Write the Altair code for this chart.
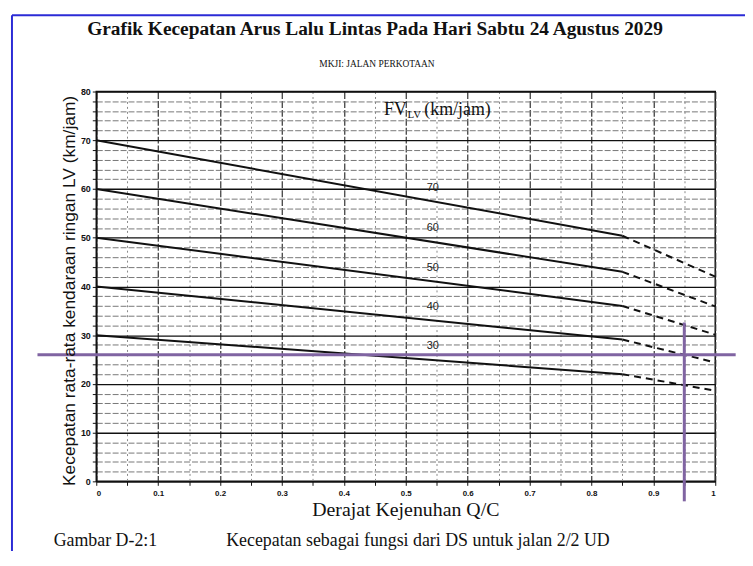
import altair as alt
import pandas as pd

# ---------------- data ----------------
fv_values = [70, 60, 50, 40, 30]
ds_points = [0.0, 0.85, 1.0]
speed_at_0 = [70, 60, 50, 40, 30]
speed_at_085 = [50.4, 43.0, 36.0, 29.1, 22.0]
speed_at_100 = [42.0, 35.9, 30.1, 24.4, 18.6]

label_text = ["70", "60", "50", "40", "30"]
label_ds = [0.534, 0.534, 0.534, 0.534, 0.534]
label_speed = [60.3, 51.9, 43.8, 35.8, 27.7]

x_ticks = [0, 0.05, 0.1, 0.15, 0.2, 0.25, 0.3, 0.35, 0.4, 0.45, 0.5,
           0.55, 0.6, 0.65, 0.7, 0.75, 0.8, 0.85, 0.9, 0.95, 1.0]
y_ticks = [0, 2, 4, 6, 8, 10, 12, 14, 16, 18, 20, 22, 24, 26, 28, 30, 32, 34, 36, 38,
           40, 42, 44, 46, 48, 50, 52, 54, 56, 58, 60, 62, 64, 66, 68, 70, 72, 74, 76, 78, 80]

# purple reading lines
ref_h_speed = [26.0]
ref_h_ds_from = [-0.095]
ref_h_ds_to = [1.033]
ref_v_ds = [0.95]
ref_v_speed_from = [-4.1]
ref_v_speed_to = [32.6]

# legend label parts
fv_label_text = ["FV", "(km/jam)"]
fv_label_ds = [0.465, 0.530]
fv_label_speed = [76.3, 76.3]
fv_sub_text = ["LV"]
fv_sub_ds = [0.503]
fv_sub_speed = [75.2]

title_text = "Grafik Kecepatan Arus Lalu Lintas Pada Hari Sabtu 24 Agustus 2029"
subtitle_text = "MKJI:  JALAN PERKOTAAN"
y_title = "Kecepatan rata-rata kendaraan ringan LV (km/jam)"
x_title = "Derajat Kejenuhan Q/C"
caption_left = "Gambar D-2:1"
caption_right = "Kecepatan sebagai fungsi dari DS untuk jalan 2/2 UD"

# ---------------- tables ----------------
rows = []
for i, fv in enumerate(fv_values):
    for ds, sp in zip(ds_points, [speed_at_0[i], speed_at_085[i], speed_at_100[i]]):
        rows.append({"fv": fv, "ds": ds, "speed": sp})
lines_df = pd.DataFrame(rows)
solid_df = lines_df[lines_df["ds"] <= 0.85]
dash_df = lines_df[lines_df["ds"] >= 0.85]

labels_df = pd.DataFrame({"t": label_text, "ds": label_ds, "speed": label_speed})
fv_df = pd.DataFrame({"t": fv_label_text, "ds": fv_label_ds, "speed": fv_label_speed})
fv_sub_df = pd.DataFrame({"t": fv_sub_text, "ds": fv_sub_ds, "speed": fv_sub_speed})
h_df = pd.DataFrame({"speed": ref_h_speed, "ds": ref_h_ds_from, "ds2": ref_h_ds_to})
v_df = pd.DataFrame({"ds": ref_v_ds, "speed": ref_v_speed_from, "speed2": ref_v_speed_to})

W, H = 624, 393

x_scale = alt.Scale(domain=[0, 1], nice=False, zero=False)
y_scale = alt.Scale(domain=[0, 80], nice=False, zero=False)

x_axis = alt.Axis(
    values=x_ticks, format="~g", title=None,
    labelExpr="round(datum.value*20) % 2 === 0 ? datum.label : ''",
    labelFont="Liberation Sans", labelFontSize=8, labelFontWeight="bold",
    labelColor="#111", labelPadding=4, tickSize=4, tickColor="#111",
    domainColor="#111", domainWidth=1.5,
    grid=True,
    gridColor={"condition": {"test": "round(datum.value*20) % 2 === 0", "value": "#333"}, "value": "#888"},
    gridDash={"condition": {"test": "round(datum.value*20) % 2 === 0", "value": [7, 2]}, "value": [2, 3]},
    gridWidth={"condition": {"test": "round(datum.value*20) % 2 === 0", "value": 1.2}, "value": 1},
)
y_axis = alt.Axis(
    values=y_ticks, title=None,
    labelExpr="datum.value % 10 === 0 ? datum.label : ''",
    labelFont="Liberation Sans", labelFontSize=9, labelFontWeight="bold",
    labelColor="#111", labelPadding=2, tickSize=4, tickColor="#111",
    domainColor="#111", domainWidth=1.5,
    grid=True,
    gridColor={"condition": {"test": "datum.value % 10 === 0", "value": "#111"}, "value": "#777"},
    gridDash={"condition": {"test": "datum.value % 10 === 0", "value": [1, 0]}, "value": [6, 2]},
    gridWidth={"condition": {"test": "datum.value % 10 === 0", "value": 1.3}, "value": 1},
)

X = alt.X("ds:Q", scale=x_scale, axis=x_axis)
Y = alt.Y("speed:Q", scale=y_scale, axis=y_axis)

solid = alt.Chart(solid_df).mark_line(color="#111", strokeWidth=2).encode(
    x=X, y=Y, detail="fv:N")
dashed = alt.Chart(dash_df).mark_line(color="#111", strokeWidth=2, strokeDash=[7, 5]).encode(
    x=X, y=Y, detail="fv:N")

line_labels = alt.Chart(labels_df).mark_text(
    font="Liberation Sans", fontSize=11, color="#222", align="left", baseline="middle"
).encode(x=X, y=Y, text="t:N")

fv_lab = alt.Chart(fv_df).mark_text(
    font="Liberation Serif", fontSize=18, color="#111", align="left", baseline="middle"
).encode(x=X, y=Y, text="t:N")
fv_sub = alt.Chart(fv_sub_df).mark_text(
    font="Liberation Serif", fontSize=11, color="#111", align="left", baseline="middle"
).encode(x=X, y=Y, text="t:N")

purple = "#8064a2"
h_rule = alt.Chart(h_df).mark_rule(color=purple, strokeWidth=3).encode(
    x=X, x2="ds2:Q", y=Y)
v_rule = alt.Chart(v_df).mark_rule(color=purple, strokeWidth=3).encode(
    x=X, y=Y, y2="speed2:Q")

one = pd.DataFrame({"k": [0]})

def txt(text, x, y, font, size, weight="normal", align="center", angle=0):
    kw = dict(font=font, fontSize=size, fontWeight=weight, align=align,
              baseline="middle", color="#111", text=text)
    if angle:
        kw["angle"] = angle
    return alt.Chart(one).mark_text(**kw).encode(x=alt.value(x), y=alt.value(y))

title = txt(title_text, 281, -63, "Liberation Serif", 19.5, "bold")
subtitle = txt(subtitle_text, 283, -28, "Liberation Serif", 9.5)
ytitle = txt(y_title, -26, 201, "Liberation Sans", 17.5, angle=270)
xtitle = txt(x_title, 312, 422, "Liberation Serif", 20)
cap1 = txt(caption_left, -43, 453, "Liberation Serif", 18, align="left")
cap2 = txt(caption_right, 131, 453, "Liberation Serif", 18, align="left")

blue = "#2b2bd6"
border_left = alt.Chart(one).mark_rule(color=blue, strokeWidth=2).encode(
    x=alt.value(-85), y=alt.value(-77), y2=alt.value(480))
border_top = alt.Chart(one).mark_rule(color=blue, strokeWidth=2).encode(
    x=alt.value(-85), x2=alt.value(660), y=alt.value(-77))

chart = alt.layer(
    solid, dashed, line_labels, fv_lab, fv_sub, h_rule, v_rule,
    title, subtitle, ytitle, xtitle, cap1, cap2, border_left, border_top
).properties(
    width=W, height=H,
    autosize=alt.AutoSizeParams(type="none"),
    padding={"left": 89, "top": 82, "right": 30, "bottom": 68},
    background="white",
).configure_view(stroke="#111", strokeWidth=1.5)

chart.save("out.html", embed_options={"renderer": "svg", "actions": False})
